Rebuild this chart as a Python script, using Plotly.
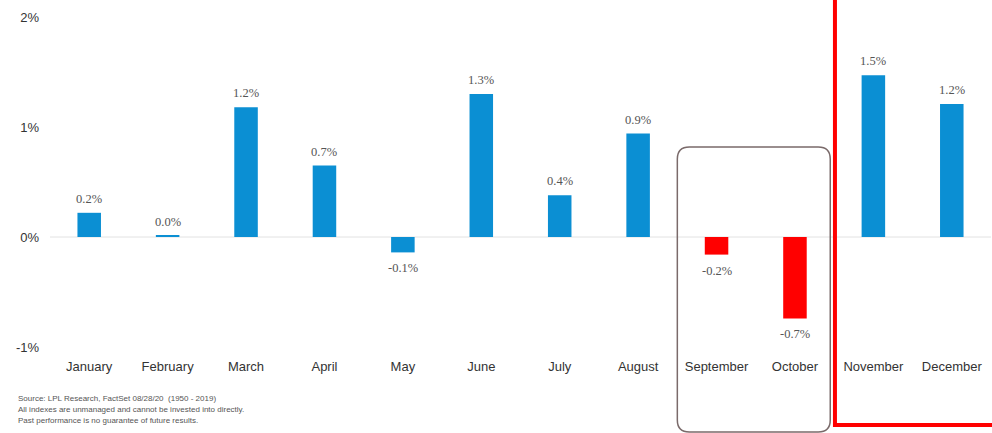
import plotly.graph_objects as go

months = ["January", "February", "March", "April", "May", "June",
          "July", "August", "September", "October", "November", "December"]
avg_return = [0.22, 0.01, 1.18, 0.65, -0.14, 1.30, 0.38, 0.94, -0.16, -0.74, 1.47, 1.21]
bar_colors = ["#0b8fd3"] * 8 + ["#ff0000", "#ff0000"] + ["#0b8fd3", "#0b8fd3"]
y_ticks = [-1, 0, 1, 2]
y_tick_text = ["-1%", "0%", "1%", "2%"]
footnotes = [
    "Source: LPL Research, FactSet 08/28/20  (1950 - 2019)",
    "All indexes are unmanaged and cannot be invested into directly.",
    "Past performance is no guarantee of future results.",
]

W, H = 992, 433
ML, MR, MT, MB = 50, 1, 17, 86
plot_w, plot_h = W - ML - MR, H - MT - MB


def px_x(px):
    return (px - ML) / plot_w


def px_y(py):
    return (H - MB - py) / plot_h


def cat_x(v):
    # category index -> paper x (range is -0.5 .. 11.5)
    return (v + 0.5) / len(months)


fig = go.Figure()
fig.add_trace(go.Bar(
    x=months, y=avg_return,
    marker=dict(color=bar_colors, line=dict(width=0)),
    width=0.3,
    hoverinfo="skip",
))

# rounded highlight around September / October
x0, x1 = cat_x(7.5), cat_x(9.45)
y0, y1 = px_y(432), px_y(147)
rx, ry = 12 / plot_w, 12 / plot_h
path = (f"M {x0 + rx},{y1} L {x1 - rx},{y1} Q {x1},{y1} {x1},{y1 - ry} "
        f"L {x1},{y0 + ry} Q {x1},{y0} {x1 - rx},{y0} "
        f"L {x0 + rx},{y0} Q {x0},{y0} {x0},{y0 + ry} "
        f"L {x0},{y1 - ry} Q {x0},{y1} {x0 + rx},{y1} Z")
shapes = [
    dict(type="line", xref="paper", yref="y", x0=0, x1=1, y0=0, y1=0,
         line=dict(color="#e2e2e2", width=1), layer="below"),
    dict(type="path", xref="paper", yref="paper", path=path,
         line=dict(color="#7a6a6a", width=1.5)),
    dict(type="rect", xref="paper", yref="paper",
         x0=cat_x(9.51), x1=cat_x(11.6), y0=px_y(425), y1=px_y(-5),
         line=dict(color="#ff0000", width=4)),
]

annotations = []
# value labels above positive bars, below negative ones
for m, v in zip(months, avg_return):
    annotations.append(dict(
        x=m, y=v, xref="x", yref="y", text=f"{v:.1f}%", showarrow=False,
        yshift=14 if v >= 0 else -16, xanchor="center", yanchor="middle",
        font=dict(family="Liberation Serif", size=12.5, color="#555555"),
    ))
for i, line in enumerate(footnotes):
    annotations.append(dict(
        x=px_x(16), y=px_y(398 + i * 11.5), xref="paper", yref="paper",
        text=line, showarrow=False, xanchor="left", yanchor="middle",
        font=dict(family="Liberation Sans", size=8, color="#555555"),
    ))

fig.update_layout(
    width=W, height=H,
    margin=dict(l=ML, r=MR, t=MT, b=MB),
    paper_bgcolor="white", plot_bgcolor="white",
    showlegend=False,
    shapes=shapes,
    annotations=annotations,
    xaxis=dict(showgrid=False, showline=False, zeroline=False, ticks="",
               tickfont=dict(family="Liberation Sans", size=13, color="#333333"),
               range=[-0.5, 11.5], ticklabelstandoff=10),
    yaxis=dict(range=[-1, 2], tickvals=y_ticks, ticktext=y_tick_text,
               showgrid=False, zeroline=False, showline=False, ticks="",
               tickfont=dict(family="Liberation Sans", size=13, color="#333333"),
               ticklabelstandoff=10),
)

fig.write_html("out.html")
